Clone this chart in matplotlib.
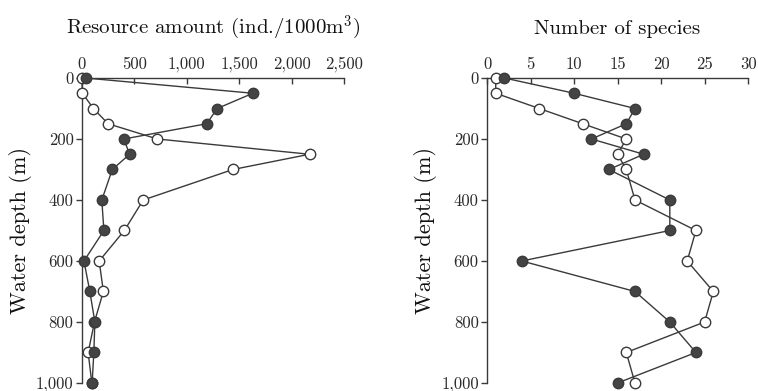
import matplotlib
matplotlib.use("Agg")
import matplotlib.pyplot as plt
from matplotlib.ticker import FuncFormatter

plt.rcParams['font.family'] = 'serif'
plt.rcParams['font.serif'] = ['cmr10', 'DejaVu Serif']
plt.rcParams['mathtext.fontset'] = 'cm'
plt.rcParams['axes.formatter.use_mathtext'] = True

# depth of each sample (m)
depth = [0, 50, 100, 150, 200, 250, 300, 400, 500, 600, 700, 800, 900, 1000]

# resource amount (ind./1000m3)
res_filled = [35, 1630, 1290, 1190, 400, 455, 290, 190, 210, 20, 76, 124, 114, 98]
res_open = [0, 5, 110, 250, 720, 2170, 1440, 585, 405, 165, 205, 120, 60, 95]

# number of species
sp_filled = [2, 10, 17, 16, 12, 18, 14, 21, 21, 4, 17, 21, 24, 15]
sp_open = [1, 1, 6, 11, 16, 15, 16, 17, 24, 23, 26, 25, 16, 17]

line_c = '#3a3a3a'
fill_c = '#444444'

fig = plt.figure(figsize=(7.58, 3.91), dpi=100)
ax1 = fig.add_axes([0.108, 0.0205, 0.346, 0.780])
ax2 = fig.add_axes([0.6425, 0.0205, 0.3445, 0.780])

comma = FuncFormatter(lambda v, p: f'{int(v):,}')


def style(ax, xmax, xstep, title):
    ax.set_xlim(0, xmax)
    ax.set_ylim(1000, 0)
    ax.xaxis.tick_top()
    ax.xaxis.set_label_position('top')
    ax.set_xticks(range(0, xmax + 1, xstep))
    ax.set_yticks([0, 200, 400, 600, 800, 1000])
    ax.xaxis.set_major_formatter(comma)
    ax.yaxis.set_major_formatter(comma)
    ax.spines['right'].set_visible(False)
    ax.spines['bottom'].set_visible(False)
    for s in ('top', 'left'):
        ax.spines[s].set_color(line_c)
        ax.spines[s].set_linewidth(1.0)
    ax.tick_params(axis='x', direction='in', length=4, width=1.0, color=line_c,
                   labelsize=12, pad=4, labelcolor='#2a2a2a')
    ax.tick_params(axis='y', direction='out', length=4, width=1.0, color=line_c,
                   labelsize=12, pad=2, labelcolor='#2a2a2a')
    ax.set_xlabel(title, fontsize=15, labelpad=17, color='#111111')
    ax.set_ylabel('Water depth (m)', fontsize=16, labelpad=3, color='#111111')


for ax, f, o in ((ax1, res_filled, res_open), (ax2, sp_filled, sp_open)):
    ax.plot(o, depth, '-o', color=line_c, lw=1.0, ms=7.5, mfc='white',
            mec=line_c, mew=1.0, clip_on=False, zorder=3)
    ax.plot(f, depth, '-o', color=line_c, lw=1.0, ms=7.5, mfc=fill_c,
            mec=line_c, mew=1.0, clip_on=False, zorder=4)

style(ax1, 2500, 500, r'Resource amount (ind./1000m$^3$)')
style(ax2, 30, 5, 'Number of species')

fig.savefig('out.png', dpi=100)
